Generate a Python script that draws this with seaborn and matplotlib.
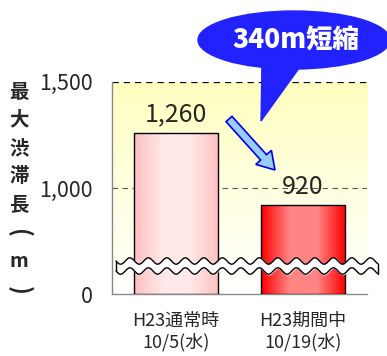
import numpy as np
import pandas as pd
import matplotlib.pyplot as plt
import seaborn as sns
from matplotlib.colors import LinearSegmentedColormap
from matplotlib.patches import Ellipse, Polygon, FancyArrow

categories = ['H23通常時\n10/5(水)', 'H23期間中\n10/19(水)']
jam_length = [1260, 920]
value_labels = ['1,260', '920']
ytick_values = [500, 1000, 1500]
ytick_labels = ['0', '1,000', '1,500']
callout_text = '340m短縮'
ylabel_chars = ['最', '大', '渋', '滞', '長', '(', 'm', ')']

sns.set_style('white')
plt.rcParams['font.family'] = ['Noto Sans CJK JP', 'DejaVu Sans']

df = pd.DataFrame({'cat': categories, 'len': jam_length})

fig = plt.figure(figsize=(3.87, 3.56), dpi=100)
ax = fig.add_axes([0.289, 0.174, 0.659, 0.596])

sns.barplot(data=df, x='cat', y='len', ax=ax, width=0.66, color='white',
            edgecolor='black', linewidth=1.0, zorder=3)
base = 500

# background gradient yellow -> white
bg = np.linspace(0, 1, 100).reshape(-1, 1)
ax.imshow(bg, cmap=LinearSegmentedColormap.from_list('bg', ['#FFFFC0', '#FFFFFF']),
          extent=(-0.5, 1.5, base, 1500), aspect='auto', zorder=0)

# horizontal gradients on bars (broken axis: bars start at the break baseline)
grads = [['#FFC0C0', '#FFE8E8', '#FFE8E8', '#FFC0C0'],
         ['#FF0000', '#FF8484', '#FF8484', '#FF0000']]
for patch, cols in zip(ax.patches, grads):
    top = patch.get_y() + patch.get_height()
    patch.set_y(base)
    patch.set_height(top - base)
    x0, w = patch.get_x(), patch.get_width()
    cm = LinearSegmentedColormap.from_list('g', cols)
    im = ax.imshow(np.linspace(0, 1, 100).reshape(1, -1), cmap=cm,
                   extent=(x0, x0 + w, base, top), aspect='auto', zorder=3.5)
    im.set_clip_path(patch)
    patch.set_facecolor('none')
    patch.set_zorder(4)
ax.set_xlim(-0.5, 1.5)
ax.set_ylim(base, 1500)

for i, (v, lab) in enumerate(zip(jam_length, value_labels)):
    ax.text(i, v + 25, lab, ha='center', va='bottom', fontsize=18, zorder=6)

ax.axhline(1500, color='black', linestyle=(0, (5, 4)), linewidth=0.9, zorder=1)
ax.axhline(1000, color='#555555', linestyle=(0, (5, 4)), linewidth=0.8, zorder=1)

ax.set_yticks(ytick_values)
ax.set_yticklabels(ytick_labels, fontsize=15.5)
ax.set_xticks([0, 1])
ax.set_xticklabels(categories, fontsize=13, linespacing=1.2)
ax.set_xticks([-0.5, 0.5, 1.5], minor=True)
ax.tick_params(axis='x', which='major', length=0, pad=13)
ax.tick_params(axis='x', which='minor', direction='in', length=4, color='#777777', width=0.8)
ax.tick_params(axis='y', length=0, pad=14)
ax.set_xlabel('')
ax.set_ylabel('')
for s in ['top', 'right']:
    ax.spines[s].set_visible(False)
for s in ['left', 'bottom']:
    ax.spines[s].set_color('#888888')
    ax.spines[s].set_linewidth(1.0)

# overlay in pixel coordinates
ov = fig.add_axes([0, 0, 1, 1])
ov.set_xlim(0, 387)
ov.set_ylim(356, 0)
ov.axis('off')
ov.patch.set_alpha(0)

# wavy break
xs = np.linspace(116, 378, 600)
wave = 3.2 * np.sin((xs - 116) / 18.5 * 2 * np.pi)
ov.fill_between(xs, 261 + wave, 271 + wave, color='white', zorder=2)
ov.plot(xs, 261 + wave, color='black', lw=1.0)
ov.plot(xs, 271 + wave, color='black', lw=1.0)
ov.plot([116, 116], [261 + wave[0], 271 + wave[0]], color='black', lw=1.0)
ov.plot([378, 378], [261 + wave[-1], 271 + wave[-1]], color='black', lw=1.0)

# callout bubble
blue = '#2222FF'
ov.add_patch(Ellipse((294, 40), 192, 58, color=blue))
ov.add_patch(Polygon([[262, 62], [302, 64], [261, 121]], closed=True, color=blue))
ov.text(296, 40, callout_text, color='white', fontsize=19, fontweight='black',
        ha='center', va='center')

# arrow
ov.add_patch(FancyArrow(229, 119, 46, 51, width=8, head_width=21, head_length=17,
                        length_includes_head=True, facecolor='#99CCFF',
                        edgecolor='#0000EE', linewidth=1.2))

# vertical y label (parentheses turned for vertical writing)
ys = np.linspace(92, 290, len(ylabel_chars))
for ch, y in zip(ylabel_chars, ys):
    if ch in '()':
        ov.text(19, y, ch, fontsize=17, fontweight='bold', ha='center', va='center',
                rotation=-90)
    else:
        ov.text(19, y, ch, fontsize=14, fontweight='bold', ha='center', va='center')

fig.savefig('out.png', dpi=100)
